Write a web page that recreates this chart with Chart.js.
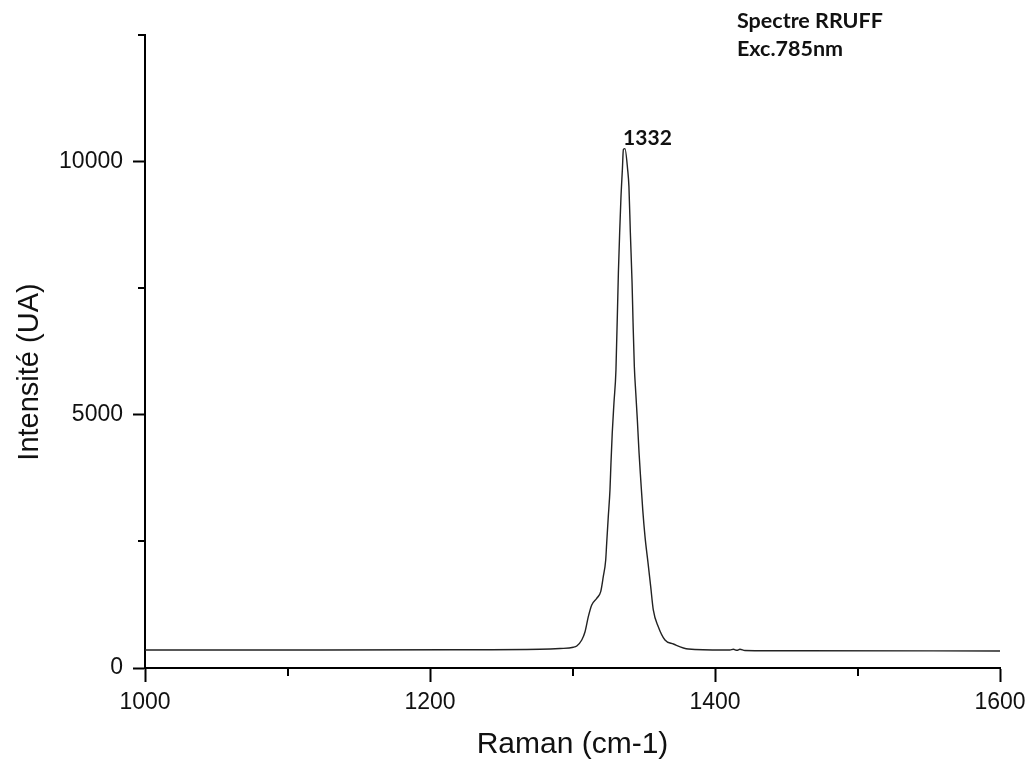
<!DOCTYPE html>
<html>
<head>
<meta charset="utf-8">
<script src="https://cdn.jsdelivr.net/npm/chart.js@4/dist/chart.umd.min.js"></script>
<style>
  html, body { margin: 0; padding: 0; background: #fff; }
  #wrap { width: 1030px; height: 767px; }
</style>
</head>
<body>
<div id="wrap"><canvas id="spectre"></canvas></div>
<script>
// Raman shift (cm-1) and intensity (UA)
const ramanShift = [1000, 1108.8, 1214, 1277.2, 1291.2, 1300.6, 1303, 1306.5, 1308.8, 1311.1,
  1313.5, 1317, 1319.8, 1321.6, 1323.3, 1324, 1325.1, 1326.3, 1327, 1327.9,
  1329.1, 1330.5, 1332.2, 1333.1, 1334, 1335, 1335.7, 1336.8, 1338.7, 1339.6,
  1340.6, 1341.8, 1342.5, 1343.4, 1344.4, 1345.5, 1346.7, 1347.9, 1349.3, 1350.9,
  1353, 1354.9, 1356.7, 1360.2, 1364.9, 1370.8, 1381.3, 1405.9, 1410.5, 1412.9,
  1415.4, 1417.5, 1421, 1459.6, 1600];
const intensity = [356, 356, 360, 370, 385, 409, 435, 553, 717, 1014,
  1245, 1377, 1508, 1804, 2134, 2470, 2984, 3518, 4051, 4644,
  5237, 5889, 7806, 8597, 9289, 9842, 10237, 10257, 9842, 9506,
  8597, 7609, 6818, 5949, 5435, 4901, 4249, 3715, 3123, 2589,
  2075, 1601, 1146, 816, 553, 474, 375, 356, 356, 370,
  350, 370, 346, 340, 336];

const xMinorTicks = [1100, 1300, 1500];
const yMinorTicks = [2500, 7500, 12500];

const peakLabel = { x: 1332, text: '1332' };
const infoLines = ['Spectre RRUFF', 'Exc.785nm'];

const extras = {
  id: 'extras',
  afterDraw(chart) {
    const ctx = chart.ctx;
    const xs = chart.scales.x, ys = chart.scales.y;
    const area = chart.chartArea;
    ctx.save();
    ctx.strokeStyle = '#000';
    ctx.lineWidth = 2;
    // minor ticks
    xMinorTicks.forEach(v => {
      const px = Math.round(xs.getPixelForValue(v));
      ctx.beginPath(); ctx.moveTo(px, area.bottom); ctx.lineTo(px, area.bottom + 8); ctx.stroke();
    });
    yMinorTicks.forEach(v => {
      const py = Math.round(ys.getPixelForValue(v));
      ctx.beginPath(); ctx.moveTo(area.left, py); ctx.lineTo(area.left - 7, py); ctx.stroke();
    });
    // y title
    ctx.fillStyle = '#111';
    ctx.font = '29px "Liberation Sans", Arial, sans-serif';
    ctx.textAlign = 'center';
    ctx.textBaseline = 'middle';
    ctx.translate(30, 372);
    ctx.rotate(-Math.PI / 2);
    ctx.fillText('Intensité (UA)', 0, 0);
    ctx.restore();

    ctx.save();
    ctx.fillStyle = '#111';
    ctx.font = 'bold 21px Lato, "Open Sans", sans-serif';
    ctx.textAlign = 'left';
    ctx.textBaseline = 'alphabetic';
    ctx.fillText(peakLabel.text, xs.getPixelForValue(peakLabel.x) + 5, 145);
    ctx.font = 'bold 21.5px Lato, "Open Sans", sans-serif';
    infoLines.forEach((t, i) => ctx.fillText(t, 737, 28 + i * 28));
    ctx.restore();
  }
};

new Chart(document.getElementById('spectre'), {
  type: 'line',
  data: {
    datasets: [{
      data: ramanShift.map((x, i) => ({ x: x, y: intensity[i] })),
      borderColor: '#222',
      borderWidth: 1.4,
      pointRadius: 0,
      cubicInterpolationMode: 'monotone',
      fill: false
    }]
  },
  options: {
    responsive: true,
    maintainAspectRatio: false,
    animation: false,
    layout: { padding: { top: 35, right: 30, left: 0, bottom: 0 } },
    plugins: { legend: { display: false }, tooltip: { enabled: false } },
    scales: {
      x: {
        type: 'linear',
        min: 1000,
        max: 1600,
        afterFit: s => { s.height = 99; s.paddingLeft = 0; s.paddingRight = 0; },
        border: { color: '#000', width: 2 },
        grid: {
          drawOnChartArea: false,
          tickLength: 14,
          tickWidth: 2,
          tickColor: c => (c.tick && c.tick.value % 200 === 0) ? '#000' : 'rgba(0,0,0,0)'
        },
        ticks: {
          stepSize: 100,
          padding: 7,
          color: '#111',
          font: { family: '"Liberation Sans", Arial, sans-serif', size: 23 },
          maxRotation: 0,
          autoSkip: false,
          callback: v => v % 200 === 0 ? String(v) : ''
        },
        title: {
          display: true,
          text: 'Raman (cm-1)',
          color: '#111',
          font: { family: '"Liberation Sans", Arial, sans-serif', size: 30 },
          padding: { top: 4, bottom: 4 }
        }
      },
      y: {
        min: 0,
        max: 12500,
        afterFit: s => { s.width = 145; },
        border: { color: '#000', width: 2 },
        grid: {
          drawOnChartArea: false,
          tickLength: 12,
          tickWidth: 2,
          tickColor: c => (c.tick && c.tick.value % 5000 === 0) ? '#000' : 'rgba(0,0,0,0)'
        },
        ticks: {
          stepSize: 2500,
          padding: 10,
          color: '#111',
          font: { family: '"Liberation Sans", Arial, sans-serif', size: 23 },
          autoSkip: false,
          callback: v => v % 5000 === 0 ? String(v) : ''
        }
      }
    }
  },
  plugins: [extras]
});
</script>
</body>
</html>
